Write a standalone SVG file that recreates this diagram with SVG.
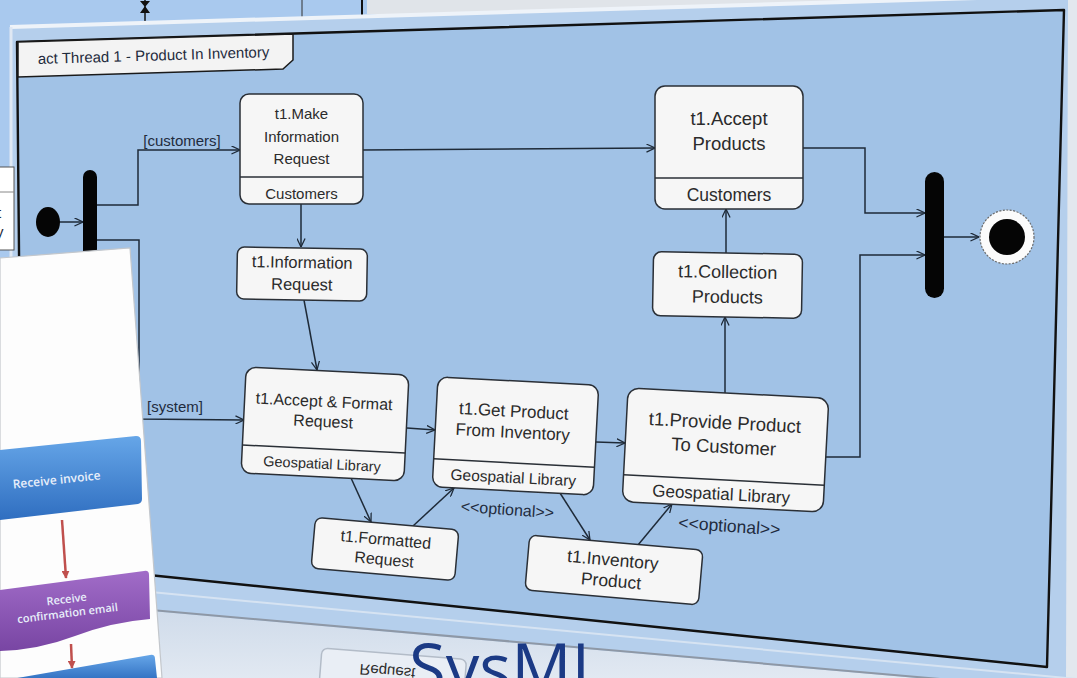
<svg xmlns="http://www.w3.org/2000/svg" width="1077" height="678" viewBox="0 0 1077 678">
<defs>
<style>
.box{fill:#f6f6f6;stroke:#2a2f36;stroke-width:1.5}
.div{stroke:#2a2f36;stroke-width:1.5}
.t{font-family:"Liberation Sans",Arial,sans-serif;fill:#2b2b2b;text-anchor:middle}
.lbl{font-family:"Liberation Sans",Arial,sans-serif;fill:#1f2b3d}
.conn path{fill:none;stroke:#1e2a38;stroke-width:1.5}
.cardt{font-family:"Open Sans",sans-serif;fill:#e8effa;text-anchor:middle;font-weight:600}
</style>
<marker id="arr" viewBox="0 0 10 10" refX="9.5" refY="5" markerWidth="9" markerHeight="9" orient="auto" markerUnits="userSpaceOnUse">
<path d="M0,0.5 L9.5,5 L0,9.5" fill="none" stroke="#1e2a38" stroke-width="1.4"/>
</marker>
<marker id="rarr" viewBox="0 0 10 10" refX="9" refY="5" markerWidth="8" markerHeight="8" orient="auto" markerUnits="userSpaceOnUse">
<path d="M0,0 L10,5 L0,10 Z" fill="#c0504d"/>
</marker>
<linearGradient id="blueG" x1="0" y1="0" x2="0" y2="1">
<stop offset="0" stop-color="#66a6e8"/><stop offset="1" stop-color="#2f6ec0"/>
</linearGradient>
<linearGradient id="purpG" x1="0" y1="0" x2="0" y2="1">
<stop offset="0" stop-color="#a16cc8"/><stop offset="1" stop-color="#7845a3"/>
</linearGradient>
<linearGradient id="lowG" x1="0" y1="0" x2="0" y2="1">
<stop offset="0" stop-color="#cfdbea"/><stop offset="1" stop-color="#e2e9f2"/>
</linearGradient>
</defs>

<!-- background -->
<rect x="0" y="0" width="1077" height="678" fill="#a9c9ee"/>
<rect x="367" y="0" width="710" height="14" fill="#e0e4e9"/>
<line x1="145" y1="0" x2="145" y2="24" stroke="#111" stroke-width="1.5"/>
<path d="M140,1 L150,1 L145,7 Z M145,6 L140,13 L150,13 Z" fill="#111"/>
<line x1="302" y1="0" x2="302" y2="19" stroke="#333" stroke-width="1"/>
<line x1="362" y1="0" x2="362" y2="17" stroke="#111" stroke-width="2"/>

<!-- window chrome -->
<polygon points="10,27 1077,-5 1077,678 10,678" fill="#b5cfec"/>
<line x1="10" y1="27" x2="1077" y2="-5" stroke="#eef3f9" stroke-width="4"/>
<line x1="11" y1="27" x2="11" y2="678" stroke="#dfe8f3" stroke-width="3"/>
<polygon points="1068,0 1077,0 1077,678 1066,678" fill="#e3e8ee"/>

<!-- frame -->
<polygon points="17,42 1064,10 1047,667 22,562" fill="#a1c2e6" stroke="#111" stroke-width="2.4" stroke-linejoin="round"/>
<line x1="140" y1="591" x2="1077" y2="679" stroke="#d6e3f2" stroke-width="2"/>
<polygon points="140,610 940,680 140,680" fill="url(#lowG)"/>
<line x1="140" y1="609" x2="940" y2="679" stroke="#8e98a6" stroke-width="2"/>

<!-- frame tab -->
<g id="frame-tab">
<polygon points="18,42 293,34 293,60 283,69 18,77" fill="#f3f3f3" stroke="#1a1a1a" stroke-width="1.5"/>
<text class="lbl" font-size="15" fill="#2b2b2b" transform="translate(38,64) rotate(-1.7)">act Thread 1 - Product In Inventory</text>
</g>

<!-- connectors -->
<g id="connectors" class="conn">
<path d="M60,222 L83,222" marker-end="url(#arr)"/>
<path d="M97,205 L138,205 L138,150 L240,150" marker-end="url(#arr)"/>
<path d="M97,240 L139,240 L139,419 L244,420" marker-end="url(#arr)"/>
<path d="M301,204 L301,247" marker-end="url(#arr)"/>
<path d="M363,150 L655,148" marker-end="url(#arr)"/>
<path d="M304,300 L317,370" marker-end="url(#arr)"/>
<path d="M351,478 L371,522" marker-end="url(#arr)"/>
<path d="M413,526 L454,488" marker-end="url(#arr)"/>
<path d="M407,428 L435,430" marker-end="url(#arr)"/>
<path d="M560,493 L590,540" marker-end="url(#arr)"/>
<path d="M596,442 L625,443" marker-end="url(#arr)"/>
<path d="M638,545 L672,504" marker-end="url(#arr)"/>
<path d="M725,393 L725,317" marker-end="url(#arr)"/>
<path d="M726,253 L726,209" marker-end="url(#arr)"/>
<path d="M803,148 L865,148 L865,213 L925,213" marker-end="url(#arr)"/>
<path d="M826,457 L860,457 L860,255 L925,255" marker-end="url(#arr)"/>
<path d="M944,237 L979,237" marker-end="url(#arr)"/>
</g>

<!-- labels -->
<text class="lbl" font-size="15" x="182" y="146" text-anchor="middle">[customers]</text>
<text class="lbl" font-size="15" x="175" y="412" text-anchor="middle">[system]</text>
<text class="lbl" font-size="16" text-anchor="middle" transform="translate(507,515) rotate(4)">&lt;&lt;optional&gt;&gt;</text>
<text class="lbl" font-size="17.5" text-anchor="middle" transform="translate(729,532) rotate(4)">&lt;&lt;optional&gt;&gt;</text>

<!-- control nodes -->
<g id="initial"><ellipse cx="48" cy="222" rx="12" ry="15" fill="#050505"/></g>
<g id="fork"><rect x="83" y="170" width="14" height="130" rx="7" fill="#050505"/></g>
<g id="join"><rect x="925" y="172" width="19" height="126" rx="9.5" fill="#050505"/></g>
<g id="final">
<circle cx="1007" cy="237" r="27" fill="#fbfbfb" stroke="#6a6a6a" stroke-width="1.2" stroke-dasharray="2 1.5"/>
<circle cx="1007" cy="237" r="18" fill="#050505"/>
</g>

<!-- action nodes -->
<g id="make-info-request">
<rect class="box" x="240" y="94" width="123" height="110" rx="9"/>
<line class="div" x1="240" y1="177" x2="363" y2="177"/>
<text class="t" font-size="15" x="301.5" y="119">t1.Make</text>
<text class="t" font-size="15" x="301.5" y="142">Information</text>
<text class="t" font-size="15" x="301.5" y="164">Request</text>
<text class="t" font-size="15" x="301.5" y="199">Customers</text>
</g>

<g id="accept-products">
<rect class="box" x="655" y="86" width="148" height="123" rx="10"/>
<line class="div" x1="655" y1="178" x2="803" y2="178"/>
<text class="t" font-size="18.5" x="729" y="125">t1.Accept</text>
<text class="t" font-size="18.5" x="729" y="150">Products</text>
<text class="t" font-size="17.5" x="729" y="201">Customers</text>
</g>

<g id="information-request" transform="translate(302,274) rotate(1)">
<rect class="box" x="-65" y="-26" width="130" height="52" rx="7"/>
<text class="t" font-size="16.5" y="-6">t1.Information</text>
<text class="t" font-size="16.5" y="16">Request</text>
</g>

<g id="collection-products" transform="translate(727.5,285) rotate(1)">
<rect class="box" x="-74.5" y="-32" width="149" height="64" rx="8"/>
<text class="t" font-size="18" y="-7">t1.Collection</text>
<text class="t" font-size="18" y="18">Products</text>
</g>

<g id="accept-format-request" transform="translate(325,424) rotate(2.8)">
<rect class="box" x="-81.5" y="-53" width="163" height="106" rx="10"/>
<line class="div" x1="-81.5" y1="25" x2="81.5" y2="25"/>
<text class="t" font-size="16" x="-2" y="-17">t1.Accept &amp; Format</text>
<text class="t" font-size="16" x="-2" y="3">Request</text>
<text class="t" font-size="14.5" x="-1" y="45">Geospatial Library</text>
</g>

<g id="get-product" transform="translate(515.5,436) rotate(3)">
<rect class="box" x="-80.5" y="-55" width="161" height="110" rx="10"/>
<line class="div" x1="-80.5" y1="27" x2="80.5" y2="27"/>
<text class="t" font-size="17" x="-3" y="-19">t1.Get Product</text>
<text class="t" font-size="17" x="-3" y="2">From Inventory</text>
<text class="t" font-size="15.5" y="47">Geospatial Library</text>
</g>

<g id="provide-product" transform="translate(725.5,450) rotate(3)">
<rect class="box" x="-100.5" y="-57" width="201" height="114" rx="11"/>
<line class="div" x1="-100.5" y1="30" x2="100.5" y2="30"/>
<text class="t" font-size="18.5" x="-2" y="-21">t1.Provide Product</text>
<text class="t" font-size="18.5" x="-2" y="3">To Customer</text>
<text class="t" font-size="17" x="-2" y="50">Geospatial Library</text>
</g>

<g id="formatted-request" transform="translate(385,549) rotate(5)">
<rect class="box" x="-72" y="-25.5" width="144" height="51" rx="7"/>
<text class="t" font-size="16" y="-4">t1.Formatted</text>
<text class="t" font-size="16" y="16">Request</text>
</g>

<g id="inventory-product" transform="translate(614,570) rotate(5)">
<rect class="box" x="-87" y="-27.5" width="174" height="55" rx="7"/>
<text class="t" font-size="17.5" x="-2" y="-4">t1.Inventory</text>
<text class="t" font-size="17.5" x="-2" y="17">Product</text>
</g>

<!-- lower reflected window + title -->
<g id="reflection" transform="translate(322,648) rotate(4.5)">
<rect x="0" y="0" width="145" height="50" rx="6" fill="#e9eef5" stroke="#b3bcc8" stroke-width="1.5"/>
<text class="t" font-size="15" fill="#9aa2ad" transform="translate(67,13) scale(1,-1)">Request</text>
</g>
<text x="409" y="692" font-family="'Open Sans',sans-serif" font-size="67" fill="#1b3a85">SysML</text>

<!-- left background window fragment -->
<g id="bg-window">
<rect x="-2" y="167" width="16" height="83" fill="#ffffff" stroke="#555" stroke-width="1"/>
<line x1="-2" y1="192" x2="14" y2="192" stroke="#888" stroke-width="1"/>
<text class="lbl" font-size="15" x="-3" y="218" fill="#333">t</text>
<text class="lbl" font-size="15" x="-4" y="237" fill="#333">y</text>
</g>

<!-- overlapping card -->
<g id="card">
<polygon points="0,258 130,248 162,678 0,678" fill="#fdfdfd" stroke="#c3c7cc" stroke-width="1.2"/>
<path d="M0,450 L136,436 Q141,436 141,441 L142,499 Q142,503 138,504 L0,520 Z" fill="url(#blueG)"/>
<text class="cardt" font-size="12" transform="translate(57,484) rotate(-6)">Receive invoice</text>
<line x1="62" y1="520" x2="66" y2="578" stroke="#c0504d" stroke-width="2.5" marker-end="url(#rarr)"/>
<path d="M0,590 L144,571 Q149,570 149,575 L150,619 Q112,622 75,636 Q38,650 0,651 Z" fill="url(#purpG)"/>
<text class="cardt" font-size="11" transform="translate(67,603) rotate(-7)">Receive</text>
<text class="cardt" font-size="11" transform="translate(68,617) rotate(-7)">confirmation email</text>
<line x1="71" y1="644" x2="72" y2="668" stroke="#c0504d" stroke-width="2.5" marker-end="url(#rarr)"/>
<path d="M0,681 L150,655 Q155,654 155,659 L157,678 L0,678 Z" fill="url(#blueG)"/>
</g>
</svg>
